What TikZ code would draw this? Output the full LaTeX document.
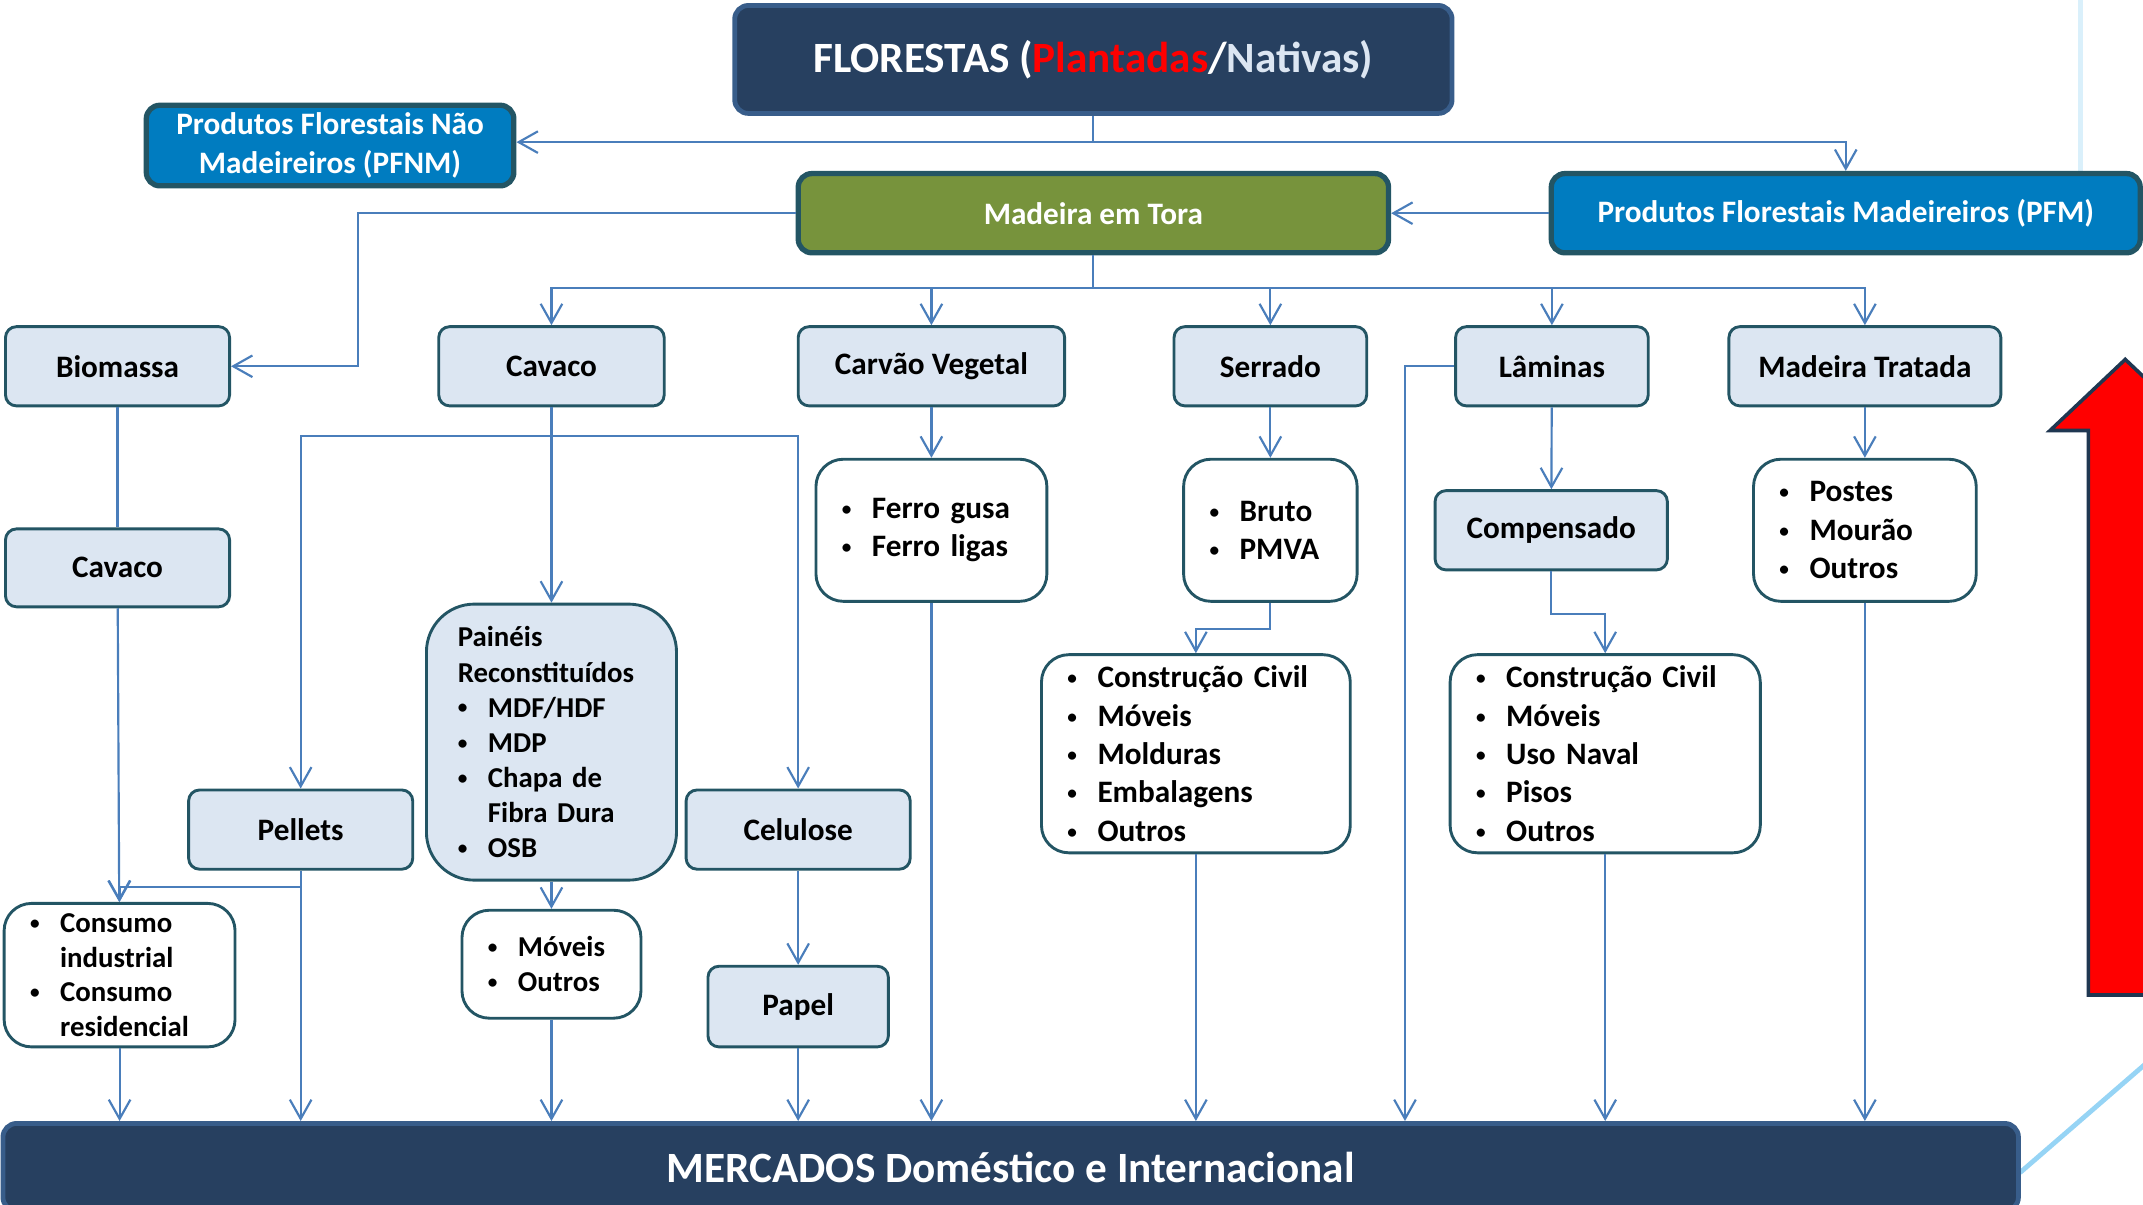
\documentclass[tikz,border=0pt]{standalone}
\usepackage{fontspec}
\setmainfont{Carlito}
\usepackage{tikz}
\usetikzlibrary{arrows.meta}

\definecolor{navy}{RGB}{39,64,96}
\definecolor{navyedge}{RGB}{56,93,138}
\definecolor{pfblue}{RGB}{0,124,192}
\definecolor{olive}{RGB}{119,147,60}
\definecolor{tealedge}{RGB}{35,85,100}
\definecolor{lightfill}{RGB}{220,230,242}
\definecolor{flowblue}{RGB}{74,126,187}
\definecolor{paleline}{RGB}{150,212,245}
\definecolor{arrowedge}{RGB}{31,55,81}

\newcommand{\itm}{\makebox[0.44cm][l]{\raisebox{1.3pt}{\fontsize{8}{8}\selectfont\textbullet}}}
\newcommand{\cont}{\hspace*{0.44cm}}

\tikzset{
  topbox/.style={draw=navyedge, fill=navy, line width=2pt, rounded corners=0.2cm, text=white, inner sep=0pt, font=\fontsize{18}{22}\selectfont\bfseries},
  pfbox/.style={draw=tealedge, fill=pfblue, line width=2.2pt, rounded corners=0.2cm, text=white, inner sep=0pt, align=center, font=\fontsize{13}{16}\selectfont\bfseries},
  catbox/.style={draw=tealedge, fill=lightfill, line width=1.2pt, rounded corners=0.16cm, inner sep=0pt, font=\fontsize{13}{16}\selectfont\bfseries},
  listbox/.style={draw=tealedge, fill=white, line width=1.2pt, rounded corners=0.4cm, inner xsep=0.38cm, inner ysep=0pt, align=left, font=\fontsize{13}{16}\selectfont\bfseries},
  flow/.style={draw=flowblue, line width=0.9pt},
}

\begin{document}
\begin{tikzpicture}[x=0.02cm, y=-0.02cm, >={Straight Barb[length=8pt,width=9pt]}]
\useasboundingbox (0,0) rectangle (1568,881);

\draw [paleline!35, line width=2pt] (1522,0) -- (1522,125);
\draw [paleline, line width=2pt] (1478,858) -- (1620,735);
\draw [fill=red, draw=arrowedge, line width=1.5pt] (1555,263) -- (1610,315) -- (1582,315) -- (1582,728) -- (1528,728) -- (1528,315) -- (1500,315) -- cycle;

\node [topbox, minimum width=10.5cm, minimum height=1.58cm] (flo) at (800,43.5) {FLORESTAS (\textcolor{red}{Plantadas}/\textcolor{lightfill}{Nativas)}};
\node [pfbox, minimum width=5.38cm, minimum height=1.18cm] (pfnm) at (241.5,106.5) {Produtos Florestais Não\\Madeireiros (PFNM)};
\node [pfbox, fill=olive, minimum width=8.64cm, minimum height=1.16cm] (tora) at (800,156) {Madeira em Tora};
\node [pfbox, minimum width=8.62cm, minimum height=1.16cm] (pfm) at (1350.5,156) {Produtos Florestais Madeireiros (PFM)};

\node [catbox, minimum width=3.28cm, minimum height=1.16cm] (bio) at (86,268) {Biomassa};
\node [catbox, minimum width=3.3cm, minimum height=1.16cm] (cav1) at (403.5,268) {Cavaco};
\node [catbox, minimum width=3.9cm, minimum height=1.16cm] (carv) at (681.5,268) {Carvão Vegetal};
\node [catbox, minimum width=2.82cm, minimum height=1.16cm] (serr) at (929.5,268) {Serrado};
\node [catbox, minimum width=2.82cm, minimum height=1.16cm] (lam) at (1135.5,268) {Lâminas};
\node [catbox, minimum width=3.98cm, minimum height=1.16cm] (trat) at (1364.5,268) {Madeira Tratada};

\node [catbox, minimum width=3.28cm, minimum height=1.14cm] (cav2) at (86,415.5) {Cavaco};
\node [listbox, text width=2.62cm, minimum height=2.08cm] (ferro) at (681.5,388) {\itm Ferro gusa\\\itm Ferro ligas};
\node [listbox, text width=1.78cm, minimum height=2.08cm] (bruto) at (929.5,388) {\itm Bruto\\\itm PMVA};
\node [catbox, minimum width=3.4cm, minimum height=1.16cm] (comp) at (1135,388) {Compensado};
\node [listbox, text width=2.5cm, minimum height=2.08cm] (postes) at (1364.5,388) {\itm Postes\\\itm Mourão\\\itm Outros};

\node [listbox, fill=lightfill, rounded corners=0.7cm, inner xsep=0.46cm, text width=2.74cm, minimum height=4.04cm, font=\fontsize{12}{14.6}\selectfont\bfseries] (pai) at (403.5,543) {Painéis\\Reconstituídos\\\itm MDF/HDF\\\itm MDP\\\itm Chapa de\\\cont Fibra Dura\\\itm OSB};
\node [catbox, minimum width=3.28cm, minimum height=1.16cm] (pel) at (220,607) {Pellets};
\node [catbox, minimum width=3.28cm, minimum height=1.16cm] (cel) at (584,607) {Celulose};
\node [listbox, text width=3.76cm, minimum height=2.9cm] (con1) at (875,551.5) {\itm Construção Civil\\\itm Móveis\\\itm Molduras\\\itm Embalagens\\\itm Outros};
\node [listbox, text width=3.78cm, minimum height=2.9cm] (con2) at (1174.5,551.5) {\itm Construção Civil\\\itm Móveis\\\itm Uso Naval\\\itm Pisos\\\itm Outros};

\node [listbox, text width=2.62cm, minimum height=2.1cm, font=\fontsize{12}{14.4}\selectfont\bfseries] (cons) at (87.5,713.5) {\itm Consumo\\\cont industrial\\\itm Consumo\\\cont residencial};
\node [listbox, text width=1.86cm, minimum height=1.58cm, font=\fontsize{12}{14.7}\selectfont\bfseries] (mov) at (403.5,705.5) {\itm Móveis\\\itm Outros};
\node [catbox, minimum width=2.64cm, minimum height=1.18cm] (pap) at (584,736.5) {Papel};

\node [topbox, minimum width=29.5cm, minimum height=1.28cm] (mer) at (739.5,854) {MERCADOS Doméstico e Internacional};

\coordinate (fj) at (800,104);
\coordinate (bj) at (262,268);
\coordinate (bus) at (800,211);
\coordinate (cj) at (403.5,319);
\coordinate (lj) at (1028,268);

\draw [flow] (flo) -- (fj);
\draw [flow, ->] (fj) -- (fj -| pfnm.east);
\draw [flow, ->] (fj) -| (pfm);
\draw [flow, ->] (pfm) -- (tora);
\draw [flow, ->] (tora) -| (bj) -- (bio);
\draw [flow] (tora) -- (bus);
\draw [flow, ->] (bus) -| (cav1);
\draw [flow, ->] (bus) -| (carv);
\draw [flow, ->] (bus) -| (serr);
\draw [flow, ->] (bus) -| (lam);
\draw [flow, ->] (bus) -| (trat);

\draw [flow] (bio) -- (cav2);
\draw [flow, ->] (cav2) -- (cons);
\draw [flow] (cav1) -- (cj);
\draw [flow, ->] (cj) -| (pel);
\draw [flow, ->] (cj) -| (cel);
\draw [flow, ->] (cj) -- (pai);
\draw [flow, ->] (carv) -- (ferro);
\draw [flow, ->] (serr) -- (bruto);
\draw [flow, ->] (lam) -- (comp);
\draw [flow, ->] (trat) -- (postes);
\draw [flow, ->] (bruto.south) -- ++(0,19) -| (con1);
\draw [flow, ->] (comp.south) -- ++(0,31) -| (con2);
\draw [flow, ->] (pel.south) -- ++(0,12) -| (cons);
\draw [flow, ->] (pai) -- (mov);
\draw [flow, ->] (cel) -- (pap);

\draw [flow, ->] (cons) -- (cons |- mer.north);
\draw [flow, ->] (pel) -- (pel |- mer.north);
\draw [flow, ->] (mov) -- (mov |- mer.north);
\draw [flow, ->] (pap) -- (pap |- mer.north);
\draw [flow, ->] (ferro) -- (ferro |- mer.north);
\draw [flow, ->] (con1) -- (con1 |- mer.north);
\draw [flow, ->] (lam) -- (lj) -- (lj |- mer.north);
\draw [flow, ->] (con2) -- (con2 |- mer.north);
\draw [flow, ->] (postes) -- (postes |- mer.north);
\end{tikzpicture}
\end{document}
